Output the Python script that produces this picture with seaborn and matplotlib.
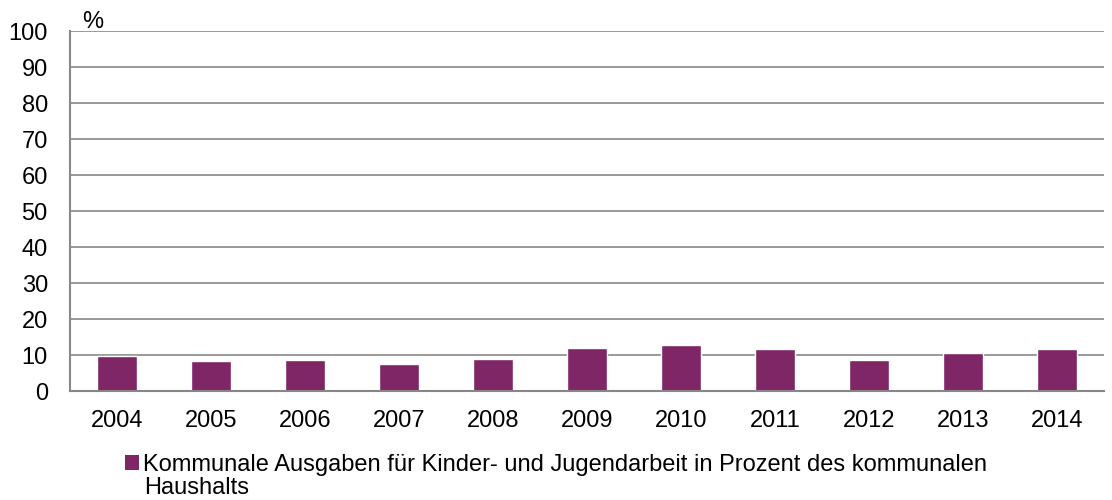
import pandas as pd
import seaborn as sns
import matplotlib
matplotlib.use('Agg')
import matplotlib.pyplot as plt
from matplotlib.patches import Patch

# Data
years = ["2004", "2005", "2006", "2007", "2008", "2009", "2010", "2011", "2012", "2013", "2014"]
values = [9.8, 8.3, 8.7, 7.6, 8.9, 12.0, 12.8, 11.7, 8.7, 10.5, 11.6]
series_label = "Kommunale Ausgaben für Kinder- und Jugendarbeit in Prozent des kommunalen"
series_label_2 = "Haushalts"
y_ticks = list(range(0, 101, 10))

bar_color = "#7F2667"
grid_color = "#878787"
fs = 17

sns.set_style("white")
plt.rcParams['font.family'] = ['Liberation Sans', 'DejaVu Sans']
plt.rcParams['text.color'] = 'black'
plt.rcParams['xtick.labelcolor'] = 'black'
plt.rcParams['ytick.labelcolor'] = 'black'

df = pd.DataFrame({"year": years, "value": values})

fig = plt.figure(figsize=(11.12, 5.0), dpi=100)
ax = fig.add_axes([0.063, 0.218, 0.930, 0.720])

sns.barplot(data=df, x="year", y="value", color=bar_color, width=0.42,
            saturation=1, ax=ax, zorder=3)

ax.set_ylim(0, 100)
ax.set_xlim(-0.5, len(years) - 0.5)
ax.set_yticks(y_ticks)
ax.set_xlabel("")
ax.set_ylabel("")

# horizontal gridlines
ax.yaxis.grid(True, color=grid_color, linewidth=1.2, zorder=0)
ax.set_axisbelow(True)

for side in ["top", "right"]:
    ax.spines[side].set_visible(False)
for side in ["left", "bottom"]:
    ax.spines[side].set_color(grid_color)
    ax.spines[side].set_linewidth(1.5)
ax.spines["bottom"].set_zorder(4)

ax.tick_params(axis="y", length=5, width=1.2, color=grid_color, labelsize=fs,
               labelcolor="black", pad=11)
ax.tick_params(axis="x", which="major", length=0, labelsize=fs, labelcolor="black", pad=14)
# x tick marks at category boundaries
ax.set_xticks([i - 0.5 for i in range(len(years) + 1)], minor=True)
ax.tick_params(axis="x", which="minor", length=6, width=1.2, color=grid_color)

ax.text(0.012, 0.995, "%", transform=ax.transAxes, fontsize=fs, va="bottom", ha="left",
        color="black")

handle = Patch(facecolor=bar_color, edgecolor="none")
fig.legend([handle], [series_label], loc="center left", bbox_to_anchor=(0.1125, 0.071),
           frameon=False, fontsize=fs, handlelength=0.6, handleheight=0.6,
           handletextpad=0.15, borderaxespad=0, borderpad=0, labelcolor="black")
fig.text(0.130, 0.024, series_label_2, fontsize=fs, ha="left", va="center", color="black")

fig.savefig("out.png", dpi=100)
